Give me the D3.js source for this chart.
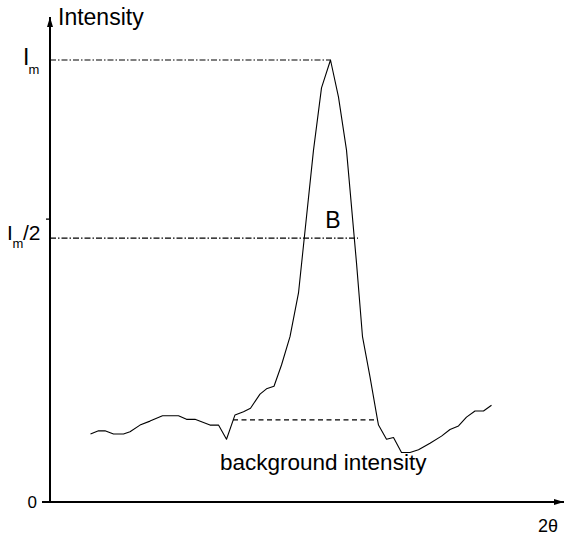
<!DOCTYPE html>
<html lang="en">
<head>
    <meta charset="UTF-8">
    <title>Intensity vs 2θ</title>
    <script src="https://cdnjs.cloudflare.com/ajax/libs/d3/7.8.5/d3.min.js"></script>
    <style>
        body { margin: 0; background: #fff; }
        svg text { font-family: "Liberation Sans", Arial, sans-serif; fill: #000; }
    </style>
</head>
<body>
    <svg id="chart" width="565" height="537"></svg>

    <script>
        // Diffraction profile (2θ in arbitrary units, intensity with Im = 100)
        const twoTheta = [8.1, 9.7, 11.0, 12.7, 14.7, 16.0, 18.0, 20.0, 22.5, 25.7, 27.3, 29.0, 32.0, 33.7,
            35.3, 37.0, 38.7, 40.1, 42.0, 43.3, 44.8, 46.3, 48.0, 49.7, 52.7, 54.3, 56.1, 57.7, 59.3,
            61.3, 62.5, 64.0, 65.5, 65.7, 67.3, 68.7, 70.3, 72.0, 73.7, 76.0, 78.3, 80.0, 81.7, 83.3,
            85.0, 86.7, 88.3];
        const intensity = [15.4, 16.1, 16.1, 15.4, 15.4, 15.9, 17.4, 18.3, 19.5, 19.5, 18.7, 18.7, 17.4, 17.4,
            14.2, 19.7, 20.4, 21.2, 24.4, 25.6, 26.2, 31.0, 37.4, 47.3, 79.6, 93.7, 100, 91.6, 79.6,
            54.1, 37.4, 28.3, 18.6, 17.4, 14.2, 14.6, 11.2, 11.2, 11.8, 13.3, 14.9, 16.4, 17.2, 19.2,
            20.6, 20.6, 21.9];

        // reference levels
        const peakI = 100, peakX = 56.1;
        const halfI = 59.7, halfEndX = 61.6;
        const bgI = 18.6, bgStartX = 36.6, bgEndX = 65.4;
        const axisTicks = [0, 64];

        const svg = d3.select("#chart");
        const x = d3.scaleLinear().domain([0, 102]).range([50, 560]);
        const y = d3.scaleLinear().domain([0, 100]).range([502, 60]);

        // arrow heads
        const defs = svg.append("defs");
        defs.append("marker")
            .attr("id", "arrow")
            .attr("viewBox", "0 0 10 6")
            .attr("refX", 10).attr("refY", 3)
            .attr("markerWidth", 10).attr("markerHeight", 6)
            .attr("markerUnits", "userSpaceOnUse")
            .attr("orient", "auto")
            .append("path").attr("d", "M0,0 L10,3 L0,6 Z").attr("fill", "#000");

        // axes
        svg.append("line")
            .attr("x1", x(0)).attr("y1", y(0)).attr("x2", x(0)).attr("y2", 17)
            .attr("stroke", "#000").attr("stroke-width", 2)
            .attr("marker-end", "url(#arrow)");
        svg.append("line")
            .attr("x1", x(0) - 8).attr("y1", y(0)).attr("x2", 564).attr("y2", y(0))
            .attr("stroke", "#000").attr("stroke-width", 2)
            .attr("marker-end", "url(#arrow)");

        svg.selectAll(".tick")
            .data(axisTicks.slice(1))
            .enter()
            .append("line")
            .attr("x1", x(0) - 4).attr("x2", x(0))
            .attr("y1", (d) => y(d)).attr("y2", (d) => y(d))
            .attr("stroke", "#000").attr("stroke-width", 1.3);

        // reference lines
        svg.append("line")
            .attr("x1", x(0)).attr("x2", x(peakX)).attr("y1", y(peakI)).attr("y2", y(peakI))
            .attr("stroke", "#000").attr("stroke-width", 1.2).attr("stroke-dasharray", "6,2,1.5,2");
        svg.append("line")
            .attr("x1", x(0)).attr("x2", x(halfEndX)).attr("y1", y(halfI)).attr("y2", y(halfI))
            .attr("stroke", "#000").attr("stroke-width", 1.2).attr("stroke-dasharray", "6,2,1.5,2");
        svg.append("line")
            .attr("x1", x(bgStartX)).attr("x2", x(bgEndX)).attr("y1", y(bgI)).attr("y2", y(bgI))
            .attr("stroke", "#000").attr("stroke-width", 1.2).attr("stroke-dasharray", "5,3.5");

        // profile
        const line = d3.line()
            .x((d, i) => x(twoTheta[i]))
            .y((d) => y(d));
        svg.append("path")
            .attr("d", line(intensity))
            .attr("fill", "none")
            .attr("stroke", "#000")
            .attr("stroke-width", 1.1)
            .attr("stroke-linejoin", "round");

        // labels
        svg.append("text").attr("x", 58).attr("y", 25).attr("font-size", 23).text("Intensity");
        svg.append("text").attr("x", 37).attr("y", 508).attr("font-size", 17)
            .attr("text-anchor", "end").text("0");
        svg.append("text").attr("x", 558).attr("y", 532).attr("font-size", 18)
            .attr("text-anchor", "end").text("2θ");

        svg.append("text").attr("x", 23).attr("y", 65).attr("font-size", 23).text("I");
        svg.append("text").attr("x", 28.5).attr("y", 74).attr("font-size", 13).text("m");

        svg.append("text").attr("x", 7).attr("y", 240).attr("font-size", 21).text("I");
        svg.append("text").attr("x", 12.5).attr("y", 248).attr("font-size", 13).text("m");
        svg.append("text").attr("x", 23).attr("y", 240).attr("font-size", 21).text("/2");

        svg.append("text").attr("x", 333).attr("y", 228).attr("font-size", 23)
            .attr("text-anchor", "middle").text("B");
        svg.append("text").attr("x", 220).attr("y", 470).attr("font-size", 22.5)
            .text("background intensity");
    </script>
</body>
</html>
